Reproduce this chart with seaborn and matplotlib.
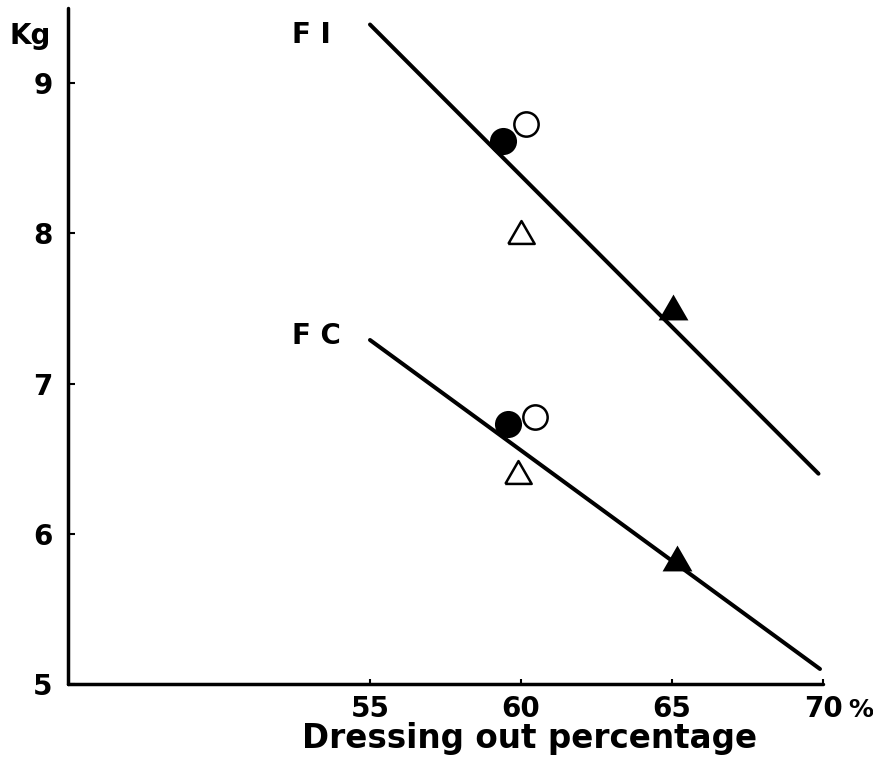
import matplotlib
matplotlib.use("Agg")
import matplotlib.pyplot as plt
import seaborn as sns
import numpy as np

# values (x = dressing out %, y = kg)
fi_line_x = [55.0, 69.85]
fi_line_y = [9.39, 6.40]
fc_line_x = [55.0, 69.9]
fc_line_y = [7.29, 5.10]

# points: filled circle, open circle, open triangle, filled triangle
fi_x = [59.42, 60.18, 59.99, 65.03]
fi_y = [8.615, 8.73, 8.01, 7.51]
fc_x = [59.57, 60.48, 59.90, 65.17]
fc_y = [6.73, 6.78, 6.41, 5.84]

x_ticks = [55, 60, 65, 70]
y_ticks = [5, 6, 7, 8, 9]

sns.set_style("ticks")
plt.rcParams['font.family'] = ['DejaVu Sans']
plt.rcParams['font.weight'] = 'bold'
for key in ['text.color', 'axes.labelcolor', 'xtick.color', 'ytick.color', 'axes.edgecolor']:
    plt.rcParams[key] = 'black'

fig = plt.figure(figsize=(8.73, 7.69), dpi=100)
ax = fig.add_axes([68 / 873, 1 - 684 / 769, (823 - 68) / 873, (684 - 8) / 769])

# equilateral triangle marker
tri = [(-1, -0.866), (1, -0.866), (0, 0.866), (-1, -0.866)]

sns.lineplot(x=fi_line_x, y=fi_line_y, color='black', linewidth=2.9,
             solid_capstyle='round', ax=ax)
sns.lineplot(x=fc_line_x, y=fc_line_y, color='black', linewidth=2.9,
             solid_capstyle='round', ax=ax)

for xs, ys in [(fi_x, fi_y), (fc_x, fc_y)]:
    # open circle
    sns.scatterplot(x=[xs[1]], y=[ys[1]], marker='o', s=17.5 ** 2, color='white',
                    edgecolor='black', linewidth=1.8, zorder=3, ax=ax)
    # filled circle
    sns.scatterplot(x=[xs[0]], y=[ys[0]], marker='o', s=19.5 ** 2, color='black',
                    edgecolor='black', linewidth=0, zorder=4, ax=ax)
    # open triangle
    sns.scatterplot(x=[xs[2]], y=[ys[2]], marker=tri, s=19 ** 2, color='white',
                    edgecolor='black', linewidth=1.8, zorder=3, ax=ax)
    # filled triangle
    sns.scatterplot(x=[xs[3]], y=[ys[3]], marker=tri, s=21.5 ** 2, color='black',
                    edgecolor='black', linewidth=0, zorder=4, ax=ax)

ax.text(52.42, 9.27, "F I", fontsize=20, fontweight='bold', ha='left', va='baseline')
ax.text(52.42, 7.26, "F C", fontsize=20, fontweight='bold', ha='left', va='baseline')

ax.set_xlim(45, 70)
ax.set_ylim(5, 9.5)
ax.set_xticks(x_ticks)
ax.set_yticks(y_ticks)
ax.set_xticklabels([str(t) for t in x_ticks], fontsize=20, fontweight='bold')
ax.set_yticklabels([str(t) for t in y_ticks], fontsize=20, fontweight='bold')
ax.tick_params(axis='y', direction='in', length=5, width=1.5, pad=11)
ax.tick_params(axis='x', direction='in', length=3.5, width=1.5, pad=8)

sns.despine(ax=ax)
for side in ['left', 'bottom']:
    ax.spines[side].set_linewidth(2.5)
    ax.spines[side].set_color('black')
    ax.spines[side].set_capstyle('round')

ax.set_xlabel("Dressing out percentage", fontsize=23.5, fontweight='bold')
ax.xaxis.label.set_va('baseline')
ax.xaxis.set_label_coords(0.611, -0.095)

ax.set_ylabel("Kg", fontsize=20, fontweight='bold', rotation=0)
ax.yaxis.label.set_va('baseline')
ax.yaxis.label.set_ha('center')
ax.yaxis.set_label_coords(-0.05, 0.947)

ax.text(1.05, -0.0488, "%", transform=ax.transAxes, fontsize=18, fontweight='bold',
        ha='center', va='baseline')

fig.savefig("out.png", dpi=100, facecolor='white')
